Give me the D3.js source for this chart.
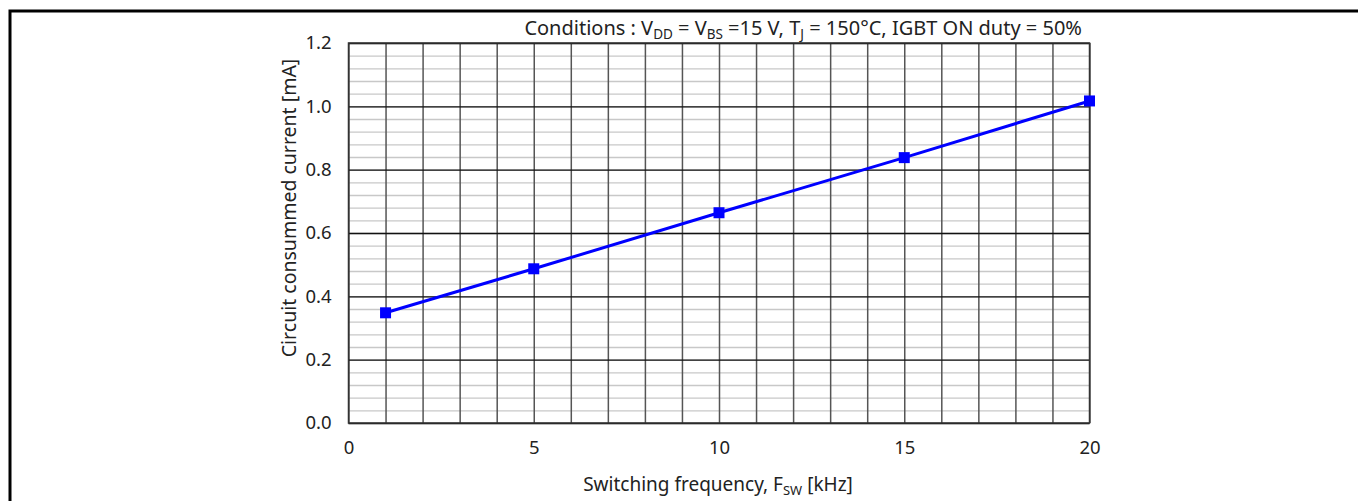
<!DOCTYPE html>
<html><head><meta charset="utf-8">
<script src="https://cdn.jsdelivr.net/npm/d3@7/dist/d3.min.js"></script>
<style>
body{margin:0;background:#fff;}
svg{display:block;}
text{font-family:"Noto Sans",sans-serif;fill:#222;}
</style></head>
<body>
<svg id="c" width="1358" height="501"></svg>
<script>
const freqs = [1, 5, 10, 15, 20];
const currents = [0.348, 0.487, 0.664, 0.838, 1.017];
const xTicks = [0, 5, 10, 15, 20];
const yTicks = [0.0, 0.2, 0.4, 0.6, 0.8, 1.0, 1.2];

const svg = d3.select("#c");
const x = d3.scaleLinear().domain([0, 20]).range([348.5, 1089.5]);
const y = d3.scaleLinear().domain([0, 1.2]).range([423, 43]);

// outer frame
svg.append("path").attr("d","M10,501 V11 H1358").attr("fill","none").attr("stroke","#000").attr("stroke-width",3);

const g = svg.append("g");
// minor horizontal grid
g.append("g").attr("transform",`translate(${x(0)},0)`)
  .call(d3.axisLeft(y).tickValues(d3.range(0,1.2001,0.04)).tickSize(-(x(20)-x(0))).tickFormat(""))
  .call(a=>a.select(".domain").remove())
  .call(a=>a.selectAll("line").attr("stroke","#c8c8c8").attr("stroke-width",1.3));
// vertical grid
g.append("g").attr("transform",`translate(0,${y(0)})`)
  .call(d3.axisBottom(x).tickValues(d3.range(0,21,1)).tickSize(-(y(0)-y(1.2))).tickFormat(""))
  .call(a=>a.select(".domain").remove())
  .call(a=>a.selectAll("line").attr("stroke","#555").attr("stroke-width",1.5));
// major horizontal grid
g.append("g").attr("transform",`translate(${x(0)},0)`)
  .call(d3.axisLeft(y).tickValues(yTicks).tickSize(-(x(20)-x(0))).tickFormat(""))
  .call(a=>a.select(".domain").remove())
  .call(a=>a.selectAll("line").attr("stroke","#111").attr("stroke-width",1.3));
// border
g.append("rect").attr("x",x(0)).attr("y",y(1.2)).attr("width",x(20)-x(0)).attr("height",y(0)-y(1.2))
  .attr("fill","none").attr("stroke","#333").attr("stroke-width",1.5);

// tick labels
const yAx = svg.append("g").attr("transform",`translate(${x(0)},0)`)
  .call(d3.axisLeft(y).tickValues(yTicks).tickSize(0).tickPadding(17).tickFormat(d3.format(".1f")));
yAx.select(".domain").remove();
yAx.selectAll("text").style("font-family","Noto Sans").style("font-size","18.5px").attr("fill","#222");
const xAx = svg.append("g").attr("transform",`translate(0,${y(0)})`)
  .call(d3.axisBottom(x).tickValues(xTicks).tickSize(0).tickPadding(18).tickFormat(d3.format("d")));
xAx.select(".domain").remove();
xAx.selectAll("text").style("font-family","Noto Sans").style("font-size","18.5px").attr("fill","#222");

// series
const pts = freqs.map((f,i)=>[f,currents[i]]);
svg.append("path").datum(pts)
  .attr("d", d3.line().x(d=>x(d[0])).y(d=>y(d[1])))
  .attr("fill","none").attr("stroke","#0000ff").attr("stroke-width",3);
svg.selectAll("rect.m").data(pts).enter().append("rect").attr("class","m")
  .attr("x",d=>x(d[0])-5.5).attr("y",d=>y(d[1])-5.5).attr("width",11).attr("height",11)
  .attr("fill","#0000ff");

// titles
const t = svg.append("text").attr("x",1082).attr("y",35).attr("text-anchor","end").style("font-size","20px");
t.append("tspan").text("Conditions : V");
t.append("tspan").attr("dy",4).style("font-size","13.5px").text("DD");
t.append("tspan").attr("dy",-4).text(" = V");
t.append("tspan").attr("dy",4).style("font-size","13.5px").text("BS");
t.append("tspan").attr("dy",-4).text(" =15 V, T");
t.append("tspan").attr("dy",4).style("font-size","13.5px").text("J");
t.append("tspan").attr("dy",-4).text(" = 150°C, IGBT ON duty = 50%");

const xl = svg.append("text").attr("x",718).attr("y",491).attr("text-anchor","middle").style("font-size","19px");
xl.append("tspan").text("Switching frequency, F");
xl.append("tspan").attr("dy",4).style("font-size","13px").text("SW");
xl.append("tspan").attr("dy",-4).text(" [kHz]");

svg.append("text").attr("transform","translate(296,208) rotate(-90)").attr("text-anchor","middle")
  .style("font-size","19.5px").text("Circuit consummed current [mA]");
</script>
</body></html>
